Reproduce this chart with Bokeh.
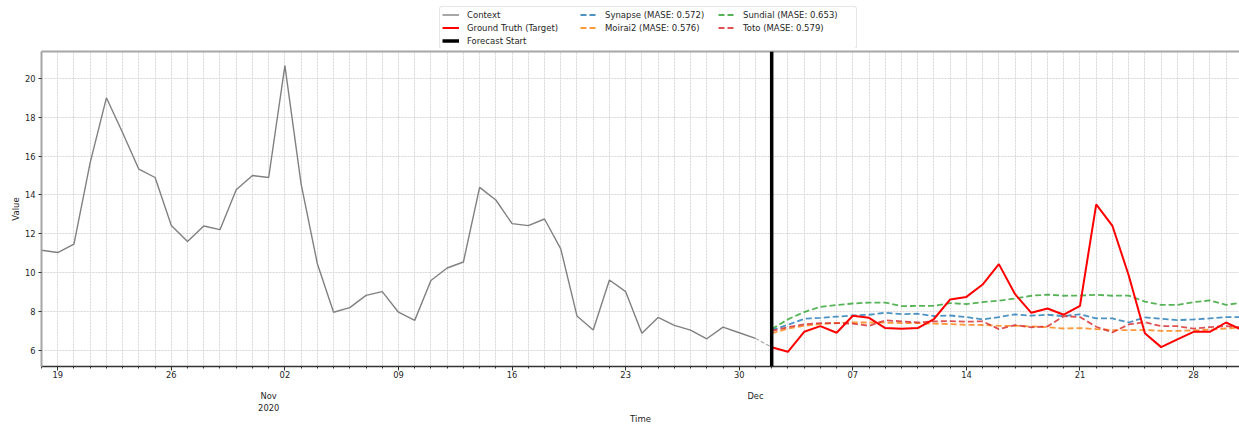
import pandas as pd
from bokeh.plotting import figure
from bokeh.layouts import column
from bokeh.models import (Range1d, FixedTicker, LinearAxis, CustomJSTickFormatter,
                          Span, Legend, LegendItem, ColumnDataSource)
from bokeh.embed import file_html
from bokeh.resources import INLINE

# ---- data -------------------------------------------------------------
context_start = "2020-10-18"
context_values = [
    11.15, 11.03, 11.46, 15.67, 19.01, 17.21, 15.33, 14.90, 12.42, 11.60, 12.40, 12.21, 14.27, 15.00,
    14.90, 20.67, 14.56, 10.45, 7.95, 8.19, 8.82, 9.01, 7.95, 7.53, 9.59, 10.23, 10.54, 14.39, 13.74,
    12.52, 12.42, 12.76, 11.22, 7.76, 7.03, 9.61, 9.01, 6.86, 7.68, 7.27, 7.03, 6.58, 7.18, 6.89,
    6.60,
]

forecast_start = "2020-12-02"
truth_values = [
    6.14, 5.91, 6.94, 7.23, 6.89, 7.77, 7.66, 7.13, 7.10, 7.13, 7.60, 8.61, 8.74, 9.38, 10.43,
    8.88, 7.92, 8.14, 7.82, 8.28, 13.51, 12.40, 9.86, 6.86, 6.15, 6.55, 6.94, 6.94, 7.42, 7.03,
]
synapse_values = [
    7.03, 7.30, 7.61, 7.66, 7.72, 7.78, 7.82, 7.92, 7.85, 7.87, 7.75, 7.78, 7.70, 7.58, 7.70,
    7.84, 7.77, 7.82, 7.75, 7.84, 7.63, 7.63, 7.42, 7.68, 7.61, 7.54, 7.58, 7.63, 7.70, 7.70,
]
moirai2_values = [
    6.86, 7.11, 7.25, 7.34, 7.39, 7.42, 7.42, 7.41, 7.39, 7.39, 7.36, 7.34, 7.30, 7.29, 7.25,
    7.25, 7.22, 7.18, 7.11, 7.13, 7.08, 7.03, 7.03, 7.03, 6.99, 6.99, 7.01, 7.05, 7.11, 7.17,
]
sundial_values = [
    7.08, 7.58, 7.96, 8.23, 8.32, 8.40, 8.45, 8.45, 8.26, 8.28, 8.28, 8.42, 8.37, 8.47, 8.54,
    8.66, 8.80, 8.86, 8.80, 8.81, 8.85, 8.80, 8.81, 8.50, 8.33, 8.33, 8.47, 8.56, 8.33, 8.44,
]
toto_values = [
    6.99, 7.18, 7.32, 7.39, 7.39, 7.36, 7.25, 7.53, 7.48, 7.42, 7.48, 7.49, 7.46, 7.48, 7.08,
    7.29, 7.17, 7.22, 7.75, 7.70, 7.20, 6.91, 7.32, 7.44, 7.23, 7.23, 7.10, 7.18, 7.23, 7.17,
]

models = [
    ("Synapse", 0.572, synapse_values, "#1f77b4"),
    ("Moirai2", 0.576, moirai2_values, "#ff7f0e"),
    ("Sundial", 0.653, sundial_values, "#2ca02c"),
    ("Toto", 0.579, toto_values, "#d62728"),
]

y_ticks = [6, 8, 10, 12, 14, 16, 18, 20]

# ---- dates ------------------------------------------------------------
ctx_dates = pd.date_range(context_start, periods=len(context_values), freq="D")
fc_dates = pd.date_range(forecast_start, periods=len(truth_values), freq="D")


def ms(ts):
    return int(pd.Timestamp(ts).value // 10**6)


DAY = 86400000
x_start = ms(ctx_dates[0])
x_end = ms(fc_dates[-1]) - 0.17 * DAY
all_days = [ms(d) for d in pd.date_range(ctx_dates[0], fc_dates[-1], freq="D")]
mondays = [ms(d) for d in pd.date_range(ctx_dates[0], fc_dates[-1], freq="W-MON")]
month_starts = [ms(d) for d in pd.date_range(ctx_dates[0], fc_dates[-1], freq="MS")]

FONT = "DejaVu Sans"
TXT = "#262626"
SPINE = "#a6a6a6"
WIDTH = 1239
LEGEND_H = 48
PLOT_H = 426 - LEGEND_H

CTX_STYLE = dict(line_color="#808080", line_width=1.4)
TRUTH_STYLE = dict(line_color="#ff0000", line_width=2)
START_STYLE = dict(line_color="black", line_width=3.5)


def model_style(color):
    return dict(line_color=color, line_width=1.8, line_alpha=0.8, line_dash="6 3")


# ---- main plot ----------------------------------------------------------
p = figure(
    width=WIDTH, height=PLOT_H,
    output_backend="svg", toolbar_location=None,
    x_range=Range1d(x_start, x_end), y_range=Range1d(5.15, 21.40),
    min_border_left=41, min_border_right=0, min_border_top=3, min_border_bottom=59,
)
p.background_fill_color = "white"
p.border_fill_color = "white"
p.outline_line_color = None

p.xgrid.ticker = FixedTicker(ticks=all_days)
for g in (p.xgrid[0], p.ygrid[0]):
    g.grid_line_color = "#d2d2d2"
    g.grid_line_width = 0.9
    g.grid_line_dash = "2 1"

xa = p.xaxis[0]
xa.ticker = FixedTicker(ticks=mondays, minor_ticks=all_days)
xa.formatter = CustomJSTickFormatter(
    code="return String(new Date(tick).getUTCDate()).padStart(2, '0');")
xa.axis_line_color = "#333333"
xa.axis_line_width = 1.3
xa.major_tick_line_color = "#333333"
xa.minor_tick_line_color = "#333333"
xa.major_tick_out = 4
xa.major_tick_in = 0
xa.minor_tick_out = 2
xa.minor_tick_in = 0
xa.major_label_standoff = 0
xa.major_label_text_font = FONT
xa.major_label_text_font_size = "8.3px"
xa.major_label_text_color = TXT

month_axis = LinearAxis(
    ticker=FixedTicker(ticks=month_starts),
    formatter=CustomJSTickFormatter(code="""
        const d = new Date(tick);
        const names = ['Jan','Feb','Mar','Apr','May','Jun','Jul','Aug','Sep','Oct','Nov','Dec'];
        const m = names[d.getUTCMonth()];
        return index == 0 ? m + '\\n' + d.getUTCFullYear() : m;
    """),
)
month_axis.axis_line_color = None
month_axis.major_tick_line_color = None
month_axis.minor_tick_line_color = None
month_axis.major_tick_out = 0
month_axis.major_tick_in = 0
month_axis.major_label_standoff = 10
month_axis.major_label_text_font = FONT
month_axis.major_label_text_font_size = "8.3px"
month_axis.major_label_text_color = TXT
month_axis.axis_label = "Time"
month_axis.axis_label_standoff = -2
month_axis.axis_label_text_font = FONT
month_axis.axis_label_text_font_size = "8.5px"
month_axis.axis_label_text_font_style = "normal"
month_axis.axis_label_text_color = TXT
p.add_layout(month_axis, "below")

ya = p.yaxis[0]
ya.ticker = FixedTicker(ticks=y_ticks)
ya.axis_line_color = SPINE
ya.axis_line_width = 2
ya.major_tick_line_color = "#333333"
ya.major_tick_out = 3
ya.major_tick_in = 0
ya.minor_tick_line_color = None
ya.major_label_standoff = 3
ya.major_label_text_font = FONT
ya.major_label_text_font_size = "8.3px"
ya.major_label_text_color = TXT
ya.axis_label = "Value"
ya.axis_label_standoff = 1
ya.axis_label_text_font = FONT
ya.axis_label_text_font_size = "8.5px"
ya.axis_label_text_font_style = "normal"
ya.axis_label_text_color = TXT

# top spine: a bare axis line along the upper edge of the frame
top_spine = LinearAxis(ticker=FixedTicker(ticks=[]))
top_spine.axis_line_color = SPINE
top_spine.axis_line_width = 2
top_spine.major_tick_line_color = None
top_spine.minor_tick_line_color = None
top_spine.major_tick_out = 0
top_spine.major_tick_in = 0
top_spine.minor_tick_out = 0
top_spine.major_label_standoff = 0
p.add_layout(top_spine, "above")

ctx_src = ColumnDataSource(dict(x=ctx_dates, y=context_values))
p.line("x", "y", source=ctx_src, **CTX_STYLE)

# dashed bridge from the last context point to the first observed target
bridge_src = ColumnDataSource(dict(x=[ctx_dates[-1], fc_dates[0]],
                                   y=[context_values[-1], truth_values[0]]))
p.line("x", "y", source=bridge_src, line_color="#808080", line_width=1.1,
       line_dash="4 2", line_alpha=0.7)

for name, mase, vals, color in models:
    src = ColumnDataSource(dict(x=fc_dates, y=vals))
    p.line("x", "y", source=src, **model_style(color))

truth_src = ColumnDataSource(dict(x=fc_dates, y=truth_values))
p.line("x", "y", source=truth_src, **TRUTH_STYLE)

p.add_layout(Span(location=ms(fc_dates[0]), dimension="height", **START_STYLE))

# ---- legend strip above the plot ----------------------------------------
leg = figure(
    width=WIDTH, height=LEGEND_H,
    output_backend="svg", toolbar_location=None,
    x_range=Range1d(0, 1), y_range=Range1d(0, 1),
    min_border=0, x_axis_location=None, y_axis_location=None,
)
leg.grid.visible = False
leg.outline_line_color = None
leg.background_fill_color = "white"
leg.border_fill_color = "white"

# swatch renderers: a single undefined point, so only the legend glyph shows
nan = float("nan")
swatch_src = ColumnDataSource(dict(x=[nan], y=[nan]))
swatch = {
    "Context": leg.line("x", "y", source=swatch_src, **CTX_STYLE),
    "Ground Truth (Target)": leg.line("x", "y", source=swatch_src, **TRUTH_STYLE),
    "Forecast Start": leg.line("x", "y", source=swatch_src, **START_STYLE),
}
for name, mase, vals, color in models:
    swatch[f"{name} (MASE: {mase:.3f})"] = leg.line("x", "y", source=swatch_src,
                                                     **model_style(color))

# row-major order across three columns
order = [
    "Context", "Synapse (MASE: 0.572)", "Sundial (MASE: 0.653)",
    "Ground Truth (Target)", "Moirai2 (MASE: 0.576)", "Toto (MASE: 0.579)",
    "Forecast Start",
]
# the strip's frame is aligned with the main plot's frame (left edge at 41 px)
legend = Legend(
    items=[LegendItem(label=k, renderers=[swatch[k]]) for k in order],
    orientation="horizontal", ncols=3, location=(398, -1),
)
legend.label_text_font = FONT
legend.label_text_font_size = "8.5px"
legend.label_text_color = TXT
legend.label_height = 11
legend.glyph_height = 11
legend.glyph_width = 17
legend.label_standoff = 8
legend.label_width = 111
legend.spacing = 2
legend.padding = 2
legend.margin = 0
legend.border_line_color = "#d0d0d0"
legend.border_line_width = 1
legend.border_radius = 3
legend.background_fill_color = "white"
legend.background_fill_alpha = 1
leg.add_layout(legend, "center")

layout = column(leg, p, spacing=0)
open("out.html", "w").write(file_html(layout, INLINE))
